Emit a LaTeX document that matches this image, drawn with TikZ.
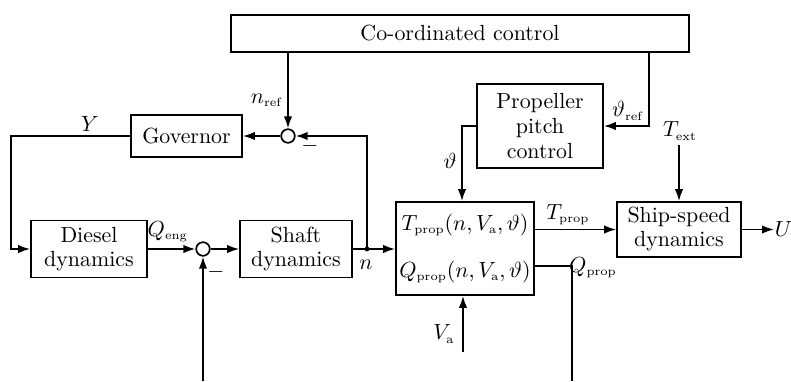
\documentclass[tikz,border=0pt]{standalone}
\usetikzlibrary{arrows.meta}
\newcommand\lsub[1]{_{\scriptscriptstyle\mathrm{#1}}}
\begin{document}
\begin{tikzpicture}[x=0.5pt,y=-0.5pt,
  font=\fontsize{10.95}{12}\selectfont,
  line width=0.85pt,
  arr/.style={-{Latex[length=6pt,width=4.2pt]}},
  blk/.style={draw,align=center,inner sep=0pt},
  sumc/.style={draw,circle,minimum size=6.8pt,inner sep=0pt},
  lbl/.style={inner sep=0pt}]
\useasboundingbox (0,0) rectangle (791,381);
% blocks
\node[blk,minimum width=229pt,minimum height=18.5pt] (coord) at (460,33.5) {Co-ordinated control};
\node[blk,minimum width=55.5pt,minimum height=21pt] (gov) at (186.5,136) {Governor};
\node[blk,minimum width=58pt,minimum height=28.5pt] (diesel) at (89,249) {Diesel\\dynamics};
\node[blk,minimum width=56pt,minimum height=28.5pt] (shaft) at (296,249) {Shaft\\dynamics};
\node[blk,minimum width=69pt,minimum height=46.5pt] (prop) at (465,248.5)
  {$T\lsub{prop}(n,V\lsub{a},\vartheta)$\\[11.5pt]$Q\lsub{prop}(n,V\lsub{a},\vartheta)$};
\node[blk,minimum width=62pt,minimum height=27.5pt] (ship) at (679,229.5) {Ship-speed\\dynamics};
\node[blk,minimum width=63pt,minimum height=42pt,font=\fontsize{10.95}{12.5}\selectfont] (pitch) at (540,126) {Propeller\\pitch\\control};
\node[sumc] (sum1) at (288,136) {};
\node[sumc] (sum2) at (203,249) {};
% coordinates
\coordinate (nj) at (367,249);
\coordinate (yc) at (11,136);
\coordinate (b2) at (203,381);
\coordinate (qc) at (572,266);
\coordinate (qb) at (572,381);
\coordinate (va) at (463,352);
\coordinate (tr) at (649,126);
\coordinate (tl) at (462,126);
\coordinate (te) at (679,145);
\node[lbl,anchor=west] (U) at (774,229.5) {$U$};
% connectors
\draw[arr] (sum1 |- coord.south) -- (sum1.north);
\draw[arr] (sum1.west) -- (gov.east);
\draw[arr] (nj) |- (sum1.east);
\draw[arr] (gov.west) -- (yc) |- (diesel.west);
\draw[arr] (diesel.east) -- (sum2.west);
\draw[arr] (sum2.east) -- (shaft.west);
\draw (shaft.east) -- (nj);
\draw[arr] (nj) -- (prop.west |- nj);
\fill (nj) circle (1.2pt);
\draw[arr] (b2) -- (sum2.south);
\draw[arr] (prop.east |- ship.west) -- (ship.west);
\draw[arr] (ship.east) -- (U.west);
\draw (prop.east |- qc) -- (qc) -- (qb);
\draw[arr] (va) -- (va |- prop.south);
\draw[arr] (tr |- coord.south) -- (tr) -- (pitch.east);
\draw[arr] (pitch.west) -- (tl) -- (tl |- prop.north);
\draw[arr] (te) -- (ship.north);
% labels
\node[lbl] (lnref) at (267,100) {$n\lsub{ref}$};
\node[lbl] (lY) at (90,124) {$Y$};
\node[lbl] (lm1) at (310,146) {$-$};
\node[lbl] (lm2) at (216,272) {$-$};
\node[lbl] (lqeng) at (168,232) {$Q\lsub{eng}$};
\node[lbl] (ln) at (366,265) {$n$};
\node[lbl] (ltprop) at (568,215) {$T\lsub{prop}$};
\node[lbl] (lqprop) at (593,268) {$Q\lsub{prop}$};
\node[lbl] (lva) at (444,334) {$V\lsub{a}$};
\node[lbl] (lth) at (450,161) {$\vartheta$};
\node[lbl] (lthref) at (628,111) {$\vartheta\lsub{ref}$};
\node[lbl] (ltext) at (680,131) {$T\lsub{ext}$};
\end{tikzpicture}
\end{document}
